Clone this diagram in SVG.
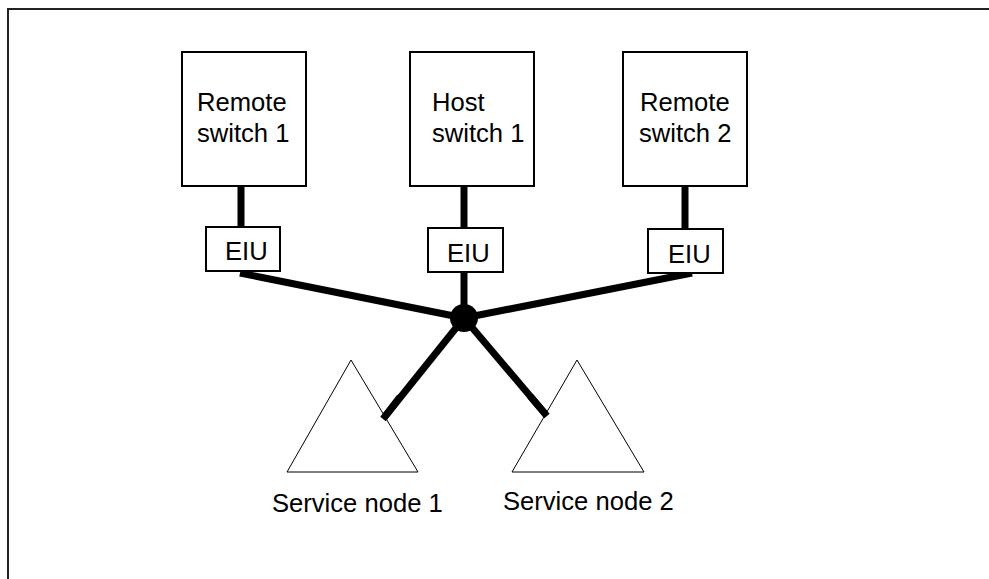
<svg xmlns="http://www.w3.org/2000/svg" width="989" height="579" viewBox="0 0 989 579">
<style>
.box{fill:#fff;stroke:#000;stroke-width:2}
.tri{fill:#fff;stroke:#000;stroke-width:1}
.t{font-family:"Liberation Sans",Arial,sans-serif;font-size:25.6px;fill:#000}
.link{stroke:#000;stroke-width:7;fill:none}
</style>
<rect width="989" height="579" fill="#fff"/>
<path d="M8 579 V9 H989" fill="none" stroke="#222" stroke-width="2"/>
<g id="connectors">
<line class="link" x1="241" y1="186" x2="241" y2="227"/>
<line class="link" x1="464" y1="186" x2="464" y2="228"/>
<line class="link" x1="685" y1="186" x2="685" y2="229"/>
<line class="link" x1="240" y1="273" x2="464" y2="318"/>
<line class="link" x1="464" y1="272" x2="464" y2="318"/>
<line class="link" x1="692" y1="273" x2="464" y2="318"/>
<line class="link" x1="464" y1="318" x2="383" y2="419"/>
<line class="link" x1="464" y1="318" x2="547" y2="416"/>
<circle cx="464" cy="318" r="14" fill="#000"/>
</g>
<g id="remote1">
<rect class="box" x="182" y="52" width="124" height="134"/>
<text class="t" x="197" y="111">Remote</text>
<text class="t" x="197" y="142">switch 1</text>
</g>
<g id="host1">
<rect class="box" x="410" y="52" width="124" height="134"/>
<text class="t" x="432" y="111">Host</text>
<text class="t" x="432" y="142">switch 1</text>
</g>
<g id="remote2">
<rect class="box" x="623" y="52" width="124" height="134"/>
<text class="t" x="640" y="111">Remote</text>
<text class="t" x="639" y="142">switch 2</text>
</g>
<g id="eiu1">
<rect class="box" x="206" y="227" width="74" height="44"/>
<text class="t" x="225" y="260">EIU</text>
</g>
<g id="eiu2">
<rect class="box" x="428" y="228" width="75" height="44"/>
<text class="t" x="447" y="262">EIU</text>
</g>
<g id="eiu3">
<rect class="box" x="648" y="229" width="75" height="44"/>
<text class="t" x="668" y="263">EIU</text>
</g>
<g id="sn1">
<polygon class="tri" points="351,360 418,472 287,472"/>
<line class="link" x1="400" y1="397" x2="383" y2="419"/>
<text class="t" x="272" y="512">Service node 1</text>
</g>
<g id="sn2">
<polygon class="tri" points="577,360 644,472 512,472"/>
<line class="link" x1="530" y1="396" x2="547" y2="416"/>
<text class="t" x="503" y="510">Service node 2</text>
</g>
</svg>
